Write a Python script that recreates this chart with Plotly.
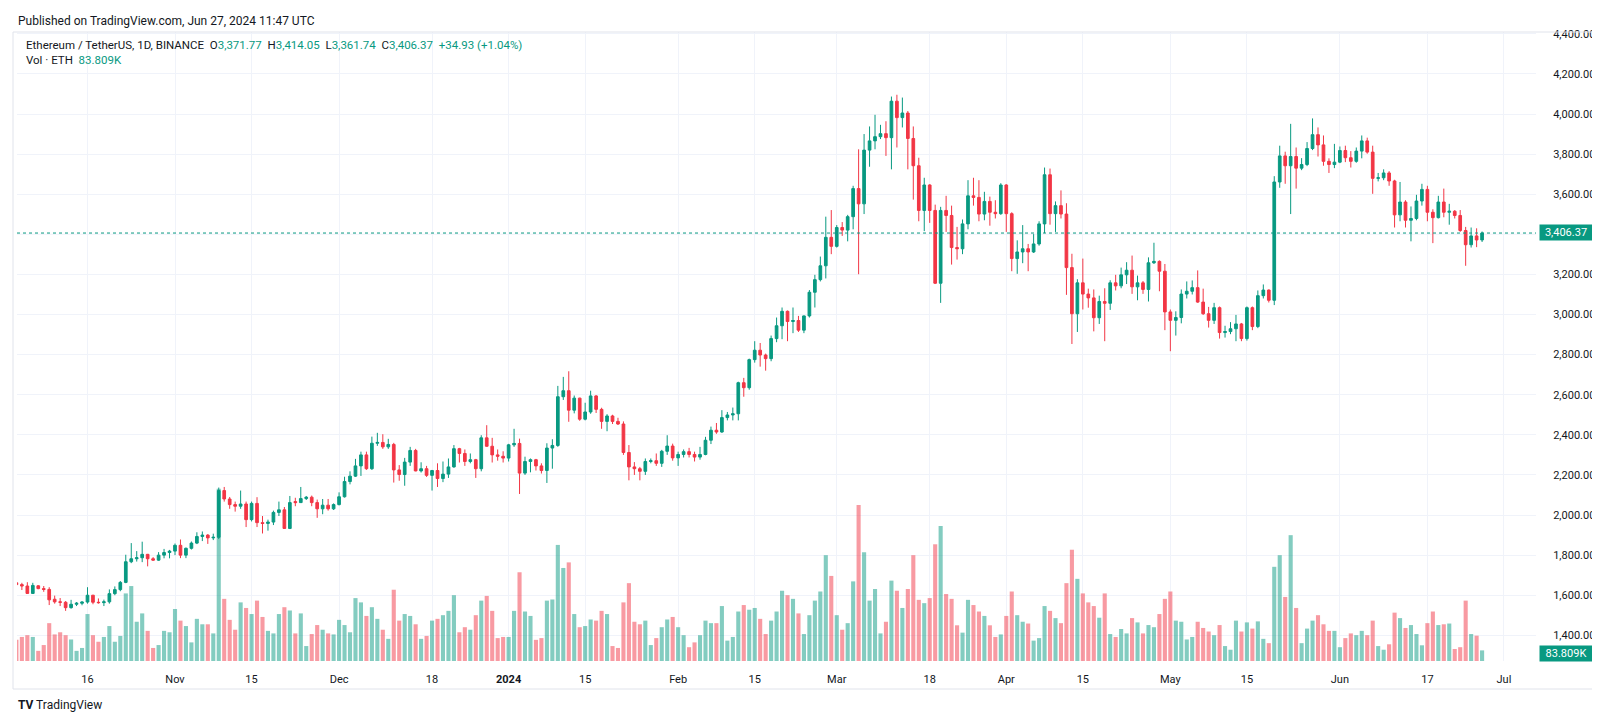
import pandas as pd
import plotly.graph_objects as go

# ---------------- data (ETH/USDT daily, Binance) ----------------
DATES = pd.date_range("2023-10-03", "2024-06-27", freq="D")

OPEN = [
    # Oct 3-31
    1662,1653,1646,1609,1647,1633,1629,1580,1567,1565,1538,1555,1560,1566,1600,1565,1563,1567,1608,1628,1664,1767,1782,1787,1804,1782,1775,1800,1813,
    # Nov
    1820,1849,1800,1834,1860,1893,1900,1886,1889,2122,2080,2052,2044,2055,1977,2058,1962,1958,1965,2013,2026,1933,2067,2062,2082,2089,2062,2031,2049,2031,
    # Dec
    2052,2091,2167,2194,2245,2300,2231,2358,2362,2340,2352,2225,2202,2264,2322,2220,2231,2198,2222,2182,2204,2240,2331,2307,2267,2276,2231,2385,2343,2300,2293,
    # Jan
    2284,2350,2357,2209,2267,2276,2245,2222,2334,2347,2590,2620,2523,2583,2478,2514,2594,2527,2467,2494,2467,2454,2312,2240,2231,2218,2267,2271,2258,2318,2344,
    # Feb
    2285,2302,2316,2302,2289,2302,2373,2423,2414,2486,2499,2505,2660,2635,2775,2822,2798,2780,2880,2944,3016,2965,2970,2922,2993,3111,3174,3243,3385,
    # Mar
    3340,3434,3421,3488,3628,3552,3820,3866,3887,3902,3882,4064,3982,4005,3878,3742,3519,3646,3519,3156,3519,3494,3334,3328,3452,3592,3584,3501,3564,3510,3503,
    # Apr
    3646,3503,3279,3312,3328,3312,3352,3452,3697,3503,3543,3501,3234,3004,3158,3102,3083,2984,3065,3056,3158,3143,3198,3221,3138,3158,3125,3258,3265,3216,
    # May
    3013,2971,2985,3102,3116,3134,3062,3004,2971,3034,2910,2915,2929,2953,2880,3034,2940,3094,3122,3071,3661,3791,3742,3788,3730,3748,3828,3897,3846,3764,3748,
    # Jun 1-27
    3760,3818,3782,3764,3815,3866,3810,3679,3682,3706,3666,3497,3561,3470,3479,3566,3624,3510,3483,3561,3510,3515,3494,3419,3348,3392,3371.77,
]

HIGH = [
    1665,1662,1665,1662,1650,1646,1640,1598,1586,1571,1577,1566,1570,1640,1602,1584,1578,1629,1644,1671,1802,1860,1820,1867,1806,1790,1815,1831,1826,
    1858,1878,1838,1868,1914,1918,1905,1907,2137,2140,2090,2067,2122,2067,2067,2089,1995,1977,2022,2067,2040,2095,2086,2140,2095,2097,2077,2080,2080,2058,
    2113,2191,2218,2280,2316,2316,2391,2410,2403,2380,2360,2249,2285,2340,2330,2263,2245,2225,2258,2267,2282,2349,2335,2327,2307,2280,2398,2448,2385,2327,2318,
    2355,2430,2381,2291,2282,2280,2258,2358,2378,2644,2689,2717,2596,2585,2560,2620,2598,2535,2503,2500,2485,2467,2349,2264,2240,2282,2282,2307,2325,2398,2356,
    2316,2327,2335,2316,2340,2390,2441,2459,2523,2514,2536,2665,2684,2780,2867,2858,2805,2895,2985,3035,3020,3035,2993,2995,3122,3198,3289,3488,3521,
    3446,3461,3497,3642,3824,3900,3938,3996,3946,3964,4087,4096,4082,4015,3938,3782,3682,3650,3548,3537,3592,3543,3437,3474,3670,3682,3670,3612,3588,3570,3655,
    3650,3510,3370,3446,3352,3401,3465,3733,3728,3564,3619,3555,3303,3176,3279,3129,3125,3094,3131,3171,3198,3234,3261,3294,3194,3167,3285,3358,3270,3252,
    3025,3016,3125,3165,3170,3220,3129,3038,3058,3040,2944,2962,2998,2958,3040,3040,3120,3150,3125,3690,3842,3812,3951,3833,3780,3860,3978,3933,3893,3779,3851,
    3838,3842,3815,3833,3893,3882,3842,3706,3724,3715,3672,3661,3570,3539,3597,3652,3642,3525,3592,3628,3552,3521,3521,3437,3434,3430,3414.05,
]

LOW = [
    1650,1626,1608,1607,1630,1617,1551,1558,1546,1522,1533,1546,1550,1558,1555,1558,1546,1558,1600,1620,1660,1760,1768,1765,1744,1772,1772,1784,1784,
    1800,1785,1785,1828,1855,1870,1856,1875,1880,2067,2031,2017,2031,1940,1968,1940,1908,1922,1950,1995,1931,1930,2044,2060,2075,2044,1986,2004,2022,2025,
    2048,2087,2153,2190,2195,2225,2225,2345,2330,2330,2162,2171,2146,2245,2218,2212,2190,2122,2140,2164,2185,2236,2262,2245,2258,2185,2218,2340,2262,2271,2262,
    2267,2340,2105,2200,2213,2222,2207,2160,2231,2340,2574,2465,2507,2470,2472,2505,2509,2430,2418,2454,2449,2300,2173,2200,2173,2200,2258,2245,2240,2300,2271,
    2245,2287,2287,2267,2276,2298,2354,2405,2410,2472,2472,2472,2590,2625,2760,2740,2720,2767,2862,2877,2867,2907,2913,2907,2985,3035,3165,3180,3301,
    3334,3392,3365,3425,3201,3501,3737,3824,3875,3791,3724,3833,3933,3724,3573,3465,3416,3457,3152,3058,3412,3249,3274,3301,3425,3543,3465,3470,3443,3479,3497,
    3412,3216,3203,3256,3216,3307,3343,3406,3448,3412,3479,3098,2853,2913,3025,3034,2916,2953,2867,3023,3120,3131,3152,3103,3071,3103,3065,3252,3116,2922,
    2817,2895,2956,3080,3100,3058,2998,2935,2953,2880,2885,2902,2867,2867,2870,2922,2932,3080,3060,3047,3632,3652,3501,3628,3720,3740,3820,3788,3742,3706,3730,
    3755,3760,3733,3757,3779,3802,3602,3664,3670,3642,3434,3465,3434,3365,3470,3543,3465,3356,3479,3485,3448,3479,3412,3243,3334,3336,3361.74,
]

CLOSE = [
    1653,1646,1609,1649,1633,1629,1577,1567,1565,1538,1555,1560,1566,1600,1565,1563,1567,1608,1628,1664,1767,1782,1787,1804,1782,1775,1800,1813,1820,
    1849,1800,1834,1860,1893,1900,1886,1889,2122,2080,2052,2044,2055,1977,2058,1962,1958,1965,2013,2026,1933,2062,2062,2082,2089,2062,2031,2049,2031,2052,
    2091,2167,2194,2245,2300,2231,2358,2362,2340,2352,2225,2202,2264,2322,2220,2231,2198,2222,2182,2204,2240,2331,2307,2267,2276,2231,2385,2343,2300,2293,2284,
    2350,2357,2209,2267,2276,2245,2222,2334,2347,2590,2620,2523,2583,2478,2514,2594,2527,2467,2494,2467,2454,2312,2240,2231,2218,2267,2271,2258,2318,2344,2285,
    2302,2316,2302,2289,2302,2373,2423,2414,2486,2499,2505,2660,2635,2775,2822,2798,2780,2880,2944,3016,2965,2970,2922,2993,3111,3174,3243,3385,3340,
    3434,3421,3488,3628,3552,3820,3866,3887,3902,3882,4064,3982,4005,3878,3742,3519,3646,3519,3156,3519,3494,3334,3328,3452,3592,3584,3501,3564,3510,3503,3646,
    3503,3279,3312,3328,3312,3352,3452,3697,3503,3543,3501,3234,3004,3158,3102,3083,2984,3065,3056,3158,3143,3198,3221,3138,3158,3125,3258,3265,3216,3013,
    2971,2985,3102,3116,3134,3062,3004,2971,3034,2910,2915,2929,2953,2880,3034,2940,3094,3122,3071,3661,3791,3742,3788,3730,3748,3828,3897,3846,3764,3748,3760,
    3818,3782,3764,3815,3866,3810,3679,3682,3706,3666,3497,3561,3470,3479,3566,3624,3510,3483,3561,3510,3515,3494,3419,3348,3392,3371.77,3406.37,
]

VOLUME_K = [
    167,190,204,190,80,126,299,210,227,204,170,80,103,371,204,152,190,276,152,198,534,592,310,376,238,103,126,238,227,
    411,319,276,147,333,290,290,218,1360,491,325,247,463,419,371,477,348,238,218,371,425,399,218,376,118,213,284,247,218,210,
    325,284,227,497,463,356,425,333,247,175,563,319,371,356,290,175,198,319,333,362,396,520,227,267,247,362,477,514,396,181,190,
    190,396,701,391,356,167,181,477,486,917,735,779,371,267,276,328,319,396,371,118,103,463,615,310,290,319,126,181,267,328,348,
    267,204,109,147,204,319,299,299,434,161,190,391,442,405,419,333,213,319,391,555,520,491,376,213,362,477,549,836,672,
    362,247,299,629,1233,859,477,569,218,310,635,555,419,569,836,483,457,497,922,1066,529,491,282,224,483,442,391,356,282,190,210,
    356,549,362,310,296,161,181,434,396,339,299,615,879,649,534,463,434,342,534,213,190,253,218,339,305,218,284,267,371,491,
    549,319,310,170,190,310,261,233,204,284,118,89,319,233,305,256,313,175,141,744,836,506,994,419,141,256,319,362,290,238,238,
    109,181,218,204,238,204,319,118,89,132,382,339,261,284,213,124,299,391,284,290,296,95,109,477,213,200,83.809,
]

TICK_DATES = ["2023-10-16", "2023-11-01", "2023-11-15", "2023-12-01", "2023-12-18", "2024-01-01",
              "2024-01-15", "2024-02-01", "2024-02-15", "2024-03-01", "2024-03-18", "2024-04-01",
              "2024-04-15", "2024-05-01", "2024-05-15", "2024-06-01", "2024-06-17", "2024-07-01"]
TICK_TEXT = ["16", "Nov", "15", "Dec", "18", "<b>2024</b>", "15", "Feb", "15", "Mar", "18", "Apr",
             "15", "May", "15", "Jun", "17", "Jul"]

# price-axis labels (3,400 is hidden behind the last-price tag in the reference)
PRICE_TICKS = [1400, 1600, 1800, 2000, 2200, 2400, 2600, 2800, 3000, 3200, 3600, 3800, 4000, 4200, 4400]
HIDDEN_GRID = [3400]

LAST_CLOSE = 3406.37
LAST_VOL_TEXT = "83.809K"

# ---------------- styling ----------------
UP = "#089981"
DOWN = "#F23645"
TXT = "#131722"
GRID = "#F0F3FA"
FONT = "Roboto"

W, H = 1600, 712
PX0, PX1 = 9, 1528       # plot area left/right (px)
PY0, PY1 = 24, 653       # plot area top/bottom (px)
PW, PH = PX1 - PX0, PY1 - PY0


def px(xp):
    return (xp - PX0) / PW


def py(yp):
    return (PY1 - yp) / PH


vol_colors = ["rgba(8,153,129,0.5)" if c >= o else "rgba(242,54,69,0.5)" for o, c in zip(OPEN, CLOSE)]

fig = go.Figure()
fig.add_trace(go.Bar(
    x=DATES, y=VOLUME_K, yaxis="y",
    marker=dict(color=vol_colors, line=dict(width=0)),
    hoverinfo="skip", showlegend=False,
))
fig.add_trace(go.Candlestick(
    x=DATES, open=OPEN, high=HIGH, low=LOW, close=CLOSE, yaxis="y2",
    increasing=dict(line=dict(color=UP, width=1), fillcolor=UP),
    decreasing=dict(line=dict(color=DOWN, width=1), fillcolor=DOWN),
    whiskerwidth=0, showlegend=False,
))

fig.update_layout(
    width=W, height=H, autosize=False,
    margin=dict(l=PX0, r=W - PX1, t=PY0, b=H - PY1),
    paper_bgcolor="white", plot_bgcolor="white",
    font=dict(family=FONT, size=11, color=TXT),
    bargap=0.25,
    showlegend=False,
    xaxis=dict(
        type="date",
        range=["2023-10-03 02:38", "2024-07-06 20:38"],
        rangeslider=dict(visible=False),
        tickvals=TICK_DATES, ticktext=TICK_TEXT,
        showgrid=True, gridcolor=GRID, gridwidth=1,
        ticks="outside", ticklen=8, tickcolor="rgba(0,0,0,0)",
        tickfont=dict(family=FONT, size=11, color=TXT),
        showline=False, zeroline=False, fixedrange=True,
    ),
    yaxis=dict(range=[0, 4969], visible=False, fixedrange=True),
    yaxis2=dict(
        overlaying="y", side="right", anchor="x",
        range=[1272, 4409], tickvals=PRICE_TICKS, tickformat=",.2f",
        showgrid=True, gridcolor=GRID, gridwidth=1,
        ticks="outside", ticklen=14, tickcolor="rgba(0,0,0,0)",
        tickfont=dict(family=FONT, size=11, color=TXT),
        showline=False, zeroline=False, fixedrange=True,
    ),
)

# grid line whose label is hidden
for gv in HIDDEN_GRID:
    fig.add_shape(type="line", xref="paper", yref="y2", x0=0, x1=1, y0=gv, y1=gv,
                  line=dict(color=GRID, width=1), layer="below")

# frame around chart
fig.add_shape(type="rect", xref="paper", yref="paper",
              x0=px(5), x1=px(1597), y0=py(681), y1=py(24),
              line=dict(color="#E0E3EB", width=1), fillcolor="rgba(0,0,0,0)", layer="above")

# last price dotted line
fig.add_shape(type="line", xref="paper", yref="y2", x0=0, x1=1, y0=LAST_CLOSE, y1=LAST_CLOSE,
              line=dict(color=UP, width=1, dash="dot"), layer="above")

g = lambda s: f'<span style="color:{UP}">{s}</span>'
sp = "\u00a0\u00a0"
legend1 = ("Ethereum / TetherUS, 1D, BINANCE" + sp + "O" + g("3,371.77") + sp + "H" + g("3,414.05") + sp +
           "L" + g("3,361.74") + sp + "C" + g("3,406.37") + sp + g("+34.93 (+1.04%)"))
legend2 = "Vol · ETH" + sp + g("83.809K")

annos = [
    dict(text="Published on TradingView.com, Jun 27, 2024 11:47 UTC", x=px(8), y=py(13),
         xanchor="left", yanchor="middle", font=dict(size=12, color=TXT)),
    dict(text=legend1, x=px(16), y=py(37), xanchor="left", yanchor="middle", font=dict(size=11.5, color=TXT)),
    dict(text=legend2, x=px(16), y=py(52), xanchor="left", yanchor="middle", font=dict(size=11.5, color=TXT)),
    dict(text=f"{LAST_CLOSE:,.2f}", x=px(1531), y=py(224.5), xanchor="left", yanchor="middle",
         bgcolor=UP, font=dict(size=11, color="white"), borderpad=1, width=50),
    dict(text=LAST_VOL_TEXT, x=px(1531), y=py(645), xanchor="left", yanchor="middle",
         bgcolor=UP, font=dict(size=11, color="white"), borderpad=1, width=50),
    dict(text='<b>TV</b> TradingView', x=px(8), y=py(697), xanchor="left", yanchor="middle",
         font=dict(size=12, color=TXT)),
]
for a in annos:
    a.setdefault("xref", "paper")
    a.setdefault("yref", "paper")
    a["showarrow"] = False
    fig.add_annotation(**a)

fig.write_html("out.html", config={"displayModeBar": False})
